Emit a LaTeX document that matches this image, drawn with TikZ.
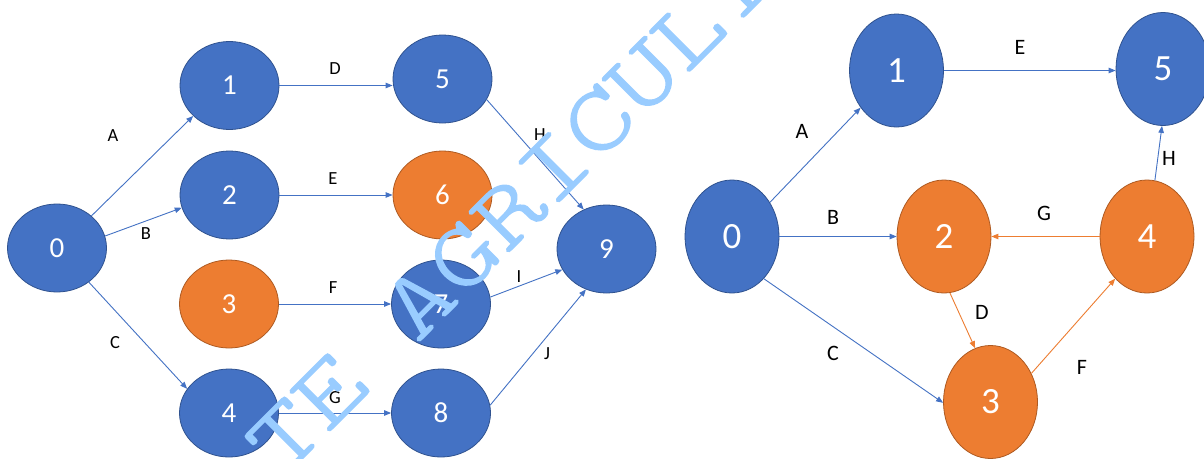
\documentclass[tikz,border=0pt]{standalone}
\usepackage{fontspec}
\setmainfont{Carlito}
\newfontfamily\wmfont{Latin Modern Mono Light}[FakeStretch=1.3,FakeBold=1.5]
\usetikzlibrary{shapes.geometric,arrows.meta}
\definecolor{nblue}{HTML}{4472C4}
\definecolor{nblueb}{HTML}{2F528F}
\definecolor{norange}{HTML}{ED7D31}
\definecolor{norangeb}{HTML}{AE5A21}
\definecolor{wm}{RGB}{153,204,255}
\begin{document}
\begin{tikzpicture}[x=1pt,y=-1pt,
 bnodeL/.style={ellipse, fill=nblue, draw=nblueb, line width=0.8pt, minimum width=99pt, minimum height=88pt, inner sep=0pt, text=white, font=\fontsize{29}{29}\selectfont},
 onodeL/.style={bnodeL, fill=norange, draw=norangeb},
 bnodeR/.style={bnodeL, minimum width=94pt, minimum height=113pt, font=\fontsize{37}{37}\selectfont},
 onodeR/.style={bnodeR, fill=norange, draw=norangeb},
 ebl/.style={draw=nblue, line width=0.9pt, -{Triangle[length=7pt,width=5.5pt]}},
 eor/.style={ebl, draw=norange},
 labL/.style={font=\fontsize{18.5}{18.5}\selectfont, inner sep=0pt},
 labR/.style={font=\fontsize{22}{22}\selectfont, inner sep=0pt}]
\useasboundingbox (0,0) rectangle (1204,458);
\clip (0,0) rectangle (1204,458);
\fill[white] (0,0) rectangle (1204,458);

% ---------- left network ----------
\node[bnodeL] (L0) at (57,248) {0};
\node[bnodeL] (L1) at (229.5,85.5) {1};
\node[bnodeL] (L2) at (229.5,195) {2};
\node[onodeL] (L3) at (229,304) {3};
\node[bnodeL] (L4) at (229,413) {4};
\node[bnodeL] (L5) at (442.5,79) {5};
\node[onodeL] (L6) at (442.5,195) {6};
\node[bnodeL] (L7) at (441,304) {7};
\node[bnodeL] (L8) at (441,413) {8};
\node[bnodeL] (L9) at (606.5,249) {9};

\draw[ebl] (L0.43) -- (L1.220);
\draw[ebl] (L0.14) -- (L2.195);
\draw[ebl] (L0.313) -- (L4.150);
\draw[ebl] (L1.east) -- (L1.east -| L5.west);
\draw[ebl] (L2.east) -- (L6.west);
\draw[ebl] (L3.east) -- (L7.west);
\draw[ebl] (L4.east) -- (L8.west);
\draw[ebl] (L5.335) -- (L9.120);
\draw[ebl] (L7.8) -- (L9.205);
\draw[ebl] (L8.9) -- (L9.243);

\node[labL] (lA) at (113,136) {A};
\node[labL] (lB) at (146,234) {B};
\node[labL] (lC) at (115,343) {C};
\node[labL] (lD) at (335,69) {D};
\node[labL] (lE) at (333,179) {E};
\node[labL] (lF) at (333,288) {F};
\node[labL] (lG) at (335,398) {G};
\node[labL] (lH) at (540,135) {H};
\node[labL] (lI) at (519,277) {I};
\node[labL] (lJ) at (547,354) {J};

% ---------- right network ----------
\node[bnodeR] (R0) at (732,236.5) {0};
\node[bnodeR] (R1) at (896.5,70.5) {1};
\node[bnodeR] (R5) at (1163,69) {5};
\node[onodeR] (R2) at (944,236.5) {2};
\node[onodeR] (R4) at (1147,236.5) {4};
\node[onodeR] (R3) at (990.5,402) {3};

\draw[ebl] (R0.42) -- (R1.226);
\draw[ebl] (R0.east) -- (R2.west);
\draw[ebl] (R0.307) -- (R3.181);
\draw[ebl] (R1.east) -- (R1.east -| R5.west);
\draw[eor] (R4.west) -- (R2.east);
\draw[eor] (R2.276) -- (R3.106);
\draw[eor] (R3.35) -- (R4.233);
\draw[ebl] (R4.82) -- (R5.269);

\node[labR] (rA) at (802,131) {A};
\node[labR] (rB) at (833,217) {B};
\node[labR] (rC) at (833,353) {C};
\node[labR] (rE) at (1020,47) {E};
\node[labR] (rG) at (1044,213) {G};
\node[labR] (rD) at (982,312) {D};
\node[labR] (rF) at (1082,367) {F};
\node[labR] (rH) at (1169,158) {H};

% ---------- watermark ----------
\node[anchor=base west, rotate=45, inner sep=0pt, text=wm,
      font=\wmfont\fontsize{93}{93}\selectfont] (wmark) at (282,479) {TE AGRICULTURE};
\end{tikzpicture}
\end{document}
